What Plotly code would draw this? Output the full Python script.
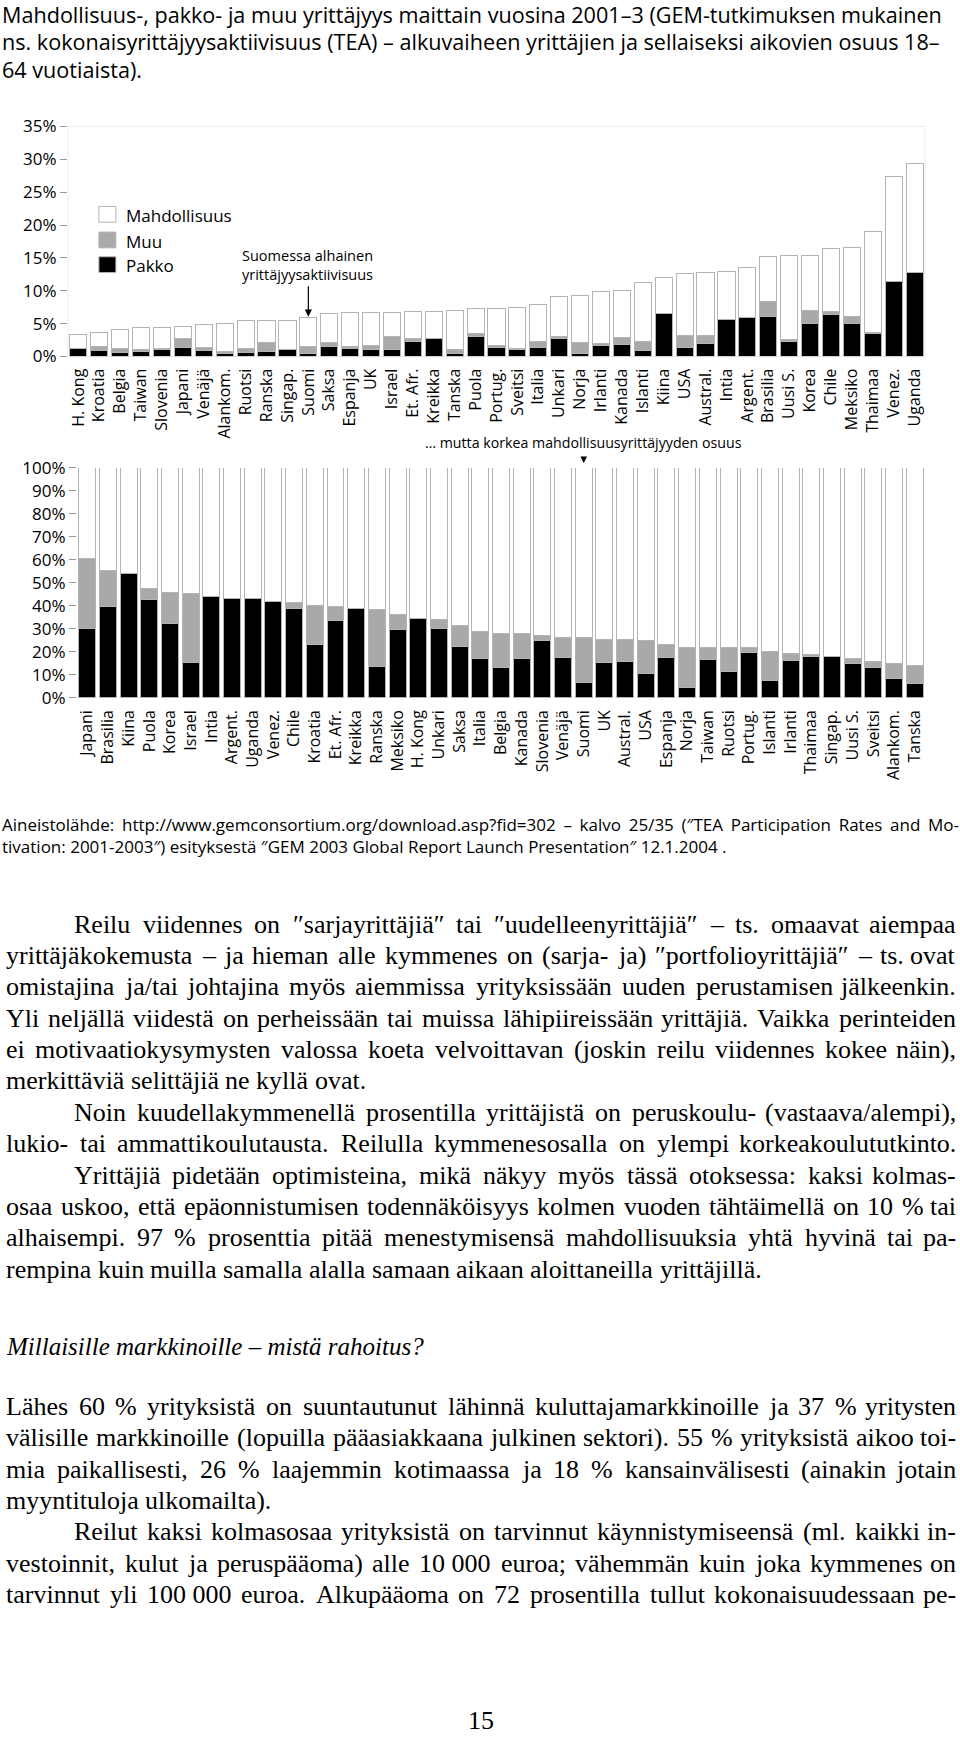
import plotly.graph_objects as go

# ---------------- DATA ----------------
countries_top = ["H. Kong", "Kroatia", "Belgia", "Taiwan", "Slovenia", "Japani", "Venäjä", "Alankom.",
                 "Ruotsi", "Ranska", "Singap.", "Suomi", "Saksa", "Espanja", "UK", "Israel", "Et. Afr.",
                 "Kreikka", "Tanska", "Puola", "Portug.", "Sveitsi", "Italia", "Unkari", "Norja", "Irlanti",
                 "Kanada", "Islanti", "Kiina", "USA", "Austral.", "Intia", "Argent.", "Brasilia", "Uusi S.",
                 "Korea", "Chile", "Meksiko", "Thaimaa", "Venez.", "Uganda"]
pakko_top = [1.2, 0.9, 0.6, 0.7, 1.1, 1.35, 0.9, 0.43, 0.62, 0.76, 1.0, 0.42, 1.45, 1.2, 1.04, 1.04, 2.27,
             2.67, 0.47, 3.11, 1.43, 1.0, 1.37, 2.73, 0.44, 1.62, 1.75, 0.88, 6.55, 1.36, 2.03, 5.65, 5.93,
             6.04, 2.29, 4.98, 6.35, 4.95, 3.42, 11.48, 12.77]
muu_top = [0.0, 0.65, 0.65, 0.35, 0.1, 1.4, 0.4, 0.33, 0.58, 1.36, 0.0, 1.12, 0.6, 0.38, 0.7, 2.03, 0.43,
           0.0, 0.56, 0.36, 0.19, 0.17, 0.94, 0.38, 1.63, 0.34, 1.11, 1.45, 0.0, 1.86, 1.22, 0.0, 0.0,
           2.39, 0.31, 2.03, 0.5, 1.1, 0.23, 0.0, 0.0]
mahd_top = [2.2, 2.1, 2.9, 3.3, 3.15, 1.75, 3.5, 4.24, 4.25, 3.33, 4.45, 4.36, 4.45, 5.12, 4.96, 3.63, 4.1,
            4.13, 5.92, 3.78, 5.63, 6.23, 5.59, 5.94, 7.23, 7.89, 7.24, 8.97, 5.5, 9.48, 9.55, 7.25, 7.67,
            6.77, 12.7, 8.29, 9.55, 10.6, 15.3, 15.87, 16.58]

countries_share = ["Japani", "Brasilia", "Kiina", "Puola", "Korea", "Israel", "Intia", "Argent.", "Uganda",
                   "Venez.", "Chile", "Kroatia", "Et. Afr.", "Kreikka", "Ranska", "Meksiko", "H. Kong",
                   "Unkari", "Saksa", "Italia", "Belgia", "Kanada", "Slovenia", "Venäjä", "Suomi", "UK",
                   "Austral.", "USA", "Espanja", "Norja", "Taiwan", "Ruotsi", "Portug.", "Islanti", "Irlanti",
                   "Thaimaa", "Singap.", "Uusi S.", "Sveitsi", "Alankom.", "Tanska"]
pakko_share = [30.3, 39.7, 54.1, 43.0, 32.4, 15.3, 43.9, 43.4, 43.4, 41.9, 38.7, 23.4, 33.7, 38.9, 13.6,
               29.7, 34.4, 30.0, 22.4, 17.1, 13.4, 17.3, 25.1, 17.6, 6.9, 15.3, 15.7, 10.7, 17.4, 4.7,
               16.6, 11.4, 19.6, 7.6, 16.1, 18.1, 18.0, 14.9, 13.3, 8.4, 6.3]
muu_share = [30.4, 15.6, 0.0, 4.4, 13.5, 30.0, 0.0, 0.0, 0.0, 0.0, 3.0, 16.7, 6.0, 0.0, 25.0, 6.4, 0.0,
             4.1, 9.0, 11.6, 14.6, 10.7, 1.9, 8.8, 19.2, 10.3, 9.6, 14.4, 6.0, 17.3, 5.4, 10.6, 2.4, 12.4,
             3.3, 0.9, 0.0, 2.1, 2.4, 6.6, 7.6]
mahd_share = [39.3, 44.7, 45.9, 52.6, 54.1, 54.7, 56.1, 56.6, 56.6, 58.1, 58.3, 59.9, 60.3, 61.1, 61.4,
              63.9, 65.6, 65.9, 68.6, 71.3, 72.0, 72.0, 73.0, 73.6, 73.9, 74.4, 74.7, 74.9, 76.6, 78.0,
              78.0, 78.0, 78.0, 80.0, 80.6, 81.0, 82.0, 83.0, 84.3, 85.0, 86.1]

series_names = ["Pakko", "Muu", "Mahdollisuus"]

title_lines = [
    "Mahdollisuus-, pakko- ja muu yrittäjyys maittain vuosina 2001–3 (GEM-tutkimuksen mukainen",
    "ns. kokonaisyrittäjyysaktiivisuus (TEA) – alkuvaiheen yrittäjien ja sellaiseksi aikovien osuus 18–",
    "64 vuotiaista).",
]
source_lines = [
    "Aineistolähde: http://www.gemconsortium.org/download.asp?fid=302 – kalvo 25/35 (″TEA Participation Rates and Mo-",
    "tivation: 2001-2003″) esityksestä ″GEM 2003 Global Report Launch Presentation″ 12.1.2004 .",
]
note_top = "Suomessa alhainen<br>yrittäjyysaktiivisuus"
note_bottom = "… mutta korkea mahdollisuusyrittäjyyden osuus"

# body text: (text, indent, justified)
body_lines = [
    ("Reilu viidennes on ″sarjayrittäjiä″ tai ″uudelleenyrittäjiä″ – ts. omaavat aiempaa", True, True),
    ("yrittäjäkokemusta – ja hieman alle kymmenes on (sarja- ja) ″portfolioyrittäjiä″ – ts. ovat", False, True),
    ("omistajina ja/tai johtajina myös aiemmissa yrityksissään uuden perustamisen jälkeenkin.", False, True),
    ("Yli neljällä viidestä on perheissään tai muissa lähipiireissään yrittäjiä. Vaikka perinteiden", False, True),
    ("ei motivaatiokysymysten valossa koeta velvoittavan (joskin reilu viidennes kokee näin),", False, True),
    ("merkittäviä selittäjiä ne kyllä ovat.", False, False),
    ("Noin kuudellakymmenellä prosentilla yrittäjistä on peruskoulu- (vastaava/alempi),", True, True),
    ("lukio- tai ammattikoulutausta. Reilulla kymmenesosalla on ylempi korkeakoulututkinto.", False, True),
    ("Yrittäjiä pidetään optimisteina, mikä näkyy myös tässä otoksessa: kaksi kolmas-", True, True),
    ("osaa uskoo, että epäonnistumisen todennäköisyys kolmen vuoden tähtäimellä on 10 % tai", False, True),
    ("alhaisempi. 97 % prosenttia pitää menestymisensä mahdollisuuksia yhtä hyvinä tai pa-", False, True),
    ("rempina kuin muilla samalla alalla samaan aikaan aloittaneilla yrittäjillä.", False, False),
]
heading = "Millaisille markkinoille – mistä rahoitus?"
body_lines2 = [
    ("Lähes 60 % yrityksistä on suuntautunut lähinnä kuluttajamarkkinoille ja 37 % yritysten", False, True),
    ("välisille markkinoille (lopuilla pääasiakkaana julkinen sektori). 55 % yrityksistä aikoo toi-", False, True),
    ("mia paikallisesti, 26 % laajemmin kotimaassa ja 18 % kansainvälisesti (ainakin jotain", False, True),
    ("myyntituloja ulkomailta).", False, False),
    ("Reilut kaksi kolmasosaa yrityksistä on tarvinnut käynnistymiseensä (ml. kaikki in-", True, True),
    ("vestoinnit, kulut ja peruspääoma) alle 10\u00a0000 euroa; vähemmän kuin joka kymmenes on", False, True),
    ("tarvinnut yli 100\u00a0000 euroa. Alkupääoma on 72 prosentilla tullut kokonaisuudessaan pe-", False, True),
]
page_number = "15"

# ---------------- STYLE ----------------
W, H = 960, 1763
DY = 8   # vertical render offset compensation for the upper chart
DY2 = 6  # ... and for the lower chart
SANS = "Open Sans"
SERIF = "Liberation Serif"
C_PAKKO, C_MUU, C_MAHD = "#000000", "#a9a9a9", "#ffffff"
OUTLINE = "#b4b4b4"


def py(px):
    return 1 - px / H


def cy(px, d=DY):  # chart element (axes/shapes) position
    return 1 - (px - d) / H


def pxx(px):
    return px / W


fig = go.Figure()
colors = [C_PAKKO, C_MUU, C_MAHD]
for name, vals, col in zip(series_names, [pakko_top, muu_top, mahd_top], colors):
    fig.add_trace(go.Bar(x=countries_top, y=vals, name=name, marker=dict(color=col, line=dict(color=OUTLINE, width=1)),
                         xaxis="x", yaxis="y", showlegend=False))
for name, vals, col in zip(series_names, [pakko_share, muu_share, mahd_share], colors):
    fig.add_trace(go.Bar(x=countries_share, y=vals, name=name, marker=dict(color=col, line=dict(color=OUTLINE, width=1)),
                         xaxis="x2", yaxis="y2", showlegend=False))

tickfont_x = dict(family=SANS, size=16, color="#000")
tickfont_y = dict(family=SANS, size=17, color="#000")

fig.update_layout(
    width=W, height=H, margin=dict(l=0, r=0, t=0, b=0),
    paper_bgcolor="white", plot_bgcolor="white",
    barmode="stack", bargap=0.18,
    xaxis=dict(domain=[pxx(67), pxx(925)], anchor="y", type="category", tickangle=-90, tickfont=tickfont_x,
               ticks="", showgrid=False, showline=False, zeroline=False, ticklabelstandoff=8),
    yaxis=dict(domain=[cy(357), cy(124)], anchor="x", range=[0, 35], dtick=5, ticksuffix="%", tickfont=tickfont_y,
               ticks="outside", ticklen=7, tickcolor="#9a9a9a", tickwidth=1, showgrid=False, zeroline=False,
               showline=False),
    xaxis2=dict(domain=[pxx(76), pxx(925)], anchor="y2", type="category", tickangle=-90, tickfont=tickfont_x,
                ticks="", showgrid=False, showline=False, zeroline=False, ticklabelstandoff=8),
    yaxis2=dict(domain=[cy(701, DY2), cy(468, DY2)], anchor="x2", range=[0, 100], dtick=10, ticksuffix="%",
                tickfont=tickfont_y, ticks="outside", ticklen=7, tickcolor="#9a9a9a", tickwidth=1,
                showgrid=False, zeroline=False, showline=False),
)

shapes = []
# light frame of the upper chart
shapes.append(dict(type="rect", xref="paper", yref="paper", x0=pxx(67), x1=pxx(925), y0=cy(357), y1=cy(124),
                   line=dict(color="#ededed", width=1), fillcolor="rgba(0,0,0,0)", layer="below"))
# legend squares
leg_y = [(205, 221), (231, 247), (256, 272)]
leg_cols = [C_MAHD, C_MUU, C_PAKKO]
leg_names = ["Mahdollisuus", "Muu", "Pakko"]
annotations = []
for (y0, y1), col, nm in zip(leg_y, leg_cols, leg_names):
    shapes.append(dict(type="rect", xref="paper", yref="paper", x0=pxx(98), x1=pxx(115), y0=cy(y1), y1=cy(y0),
                       fillcolor=col, line=dict(color=OUTLINE, width=1)))
    annotations.append(dict(x=pxx(123), y=py((y0 + y1) / 2 - 6.7), xref="paper", yref="paper", xanchor="left",
                            yanchor="middle", text=nm, showarrow=False, font=dict(family=SANS, size=17, color="#000")))

# chart notes
annotations.append(dict(x=pxx(239), y=py(235), xref="paper", yref="paper", xanchor="left", yanchor="top",
                        text=note_top, align="left", showarrow=False,
                        font=dict(family=SANS, size=14.5, color="#000")))
annotations.append(dict(x="Suomi", y=mahd_top[11] + muu_top[11] + pakko_top[11], xref="x", yref="y",
                        ax=0, ay=-33, text="", showarrow=True, arrowhead=2, arrowsize=1.2, arrowwidth=1.2,
                        arrowcolor="#000", standoff=1))
annotations.append(dict(x=pxx(422), y=py(436.3), xref="paper", yref="paper", xanchor="left", yanchor="middle",
                        text=note_bottom, showarrow=False, font=dict(family=SANS, size=14.2, color="#000")))
annotations.append(dict(x="Suomi", y=100, xref="x2", yref="y2", ax=0, ay=-12, text="", showarrow=True,
                        arrowhead=2, arrowsize=1.3, arrowwidth=1, arrowcolor="#000", standoff=5))

# title
TS = 21.6
for i, t in enumerate(title_lines):
    base = 9 + i * 28.1
    annotations.append(dict(x=0, y=py(base - 0.33 * 21), xref="paper", yref="paper", xanchor="left",
                            yanchor="middle", text=t, showarrow=False, borderpad=0,
                            font=dict(family=SANS, size=TS, color="#000")))
# source
for i, t in enumerate(source_lines):
    base = 829 + i * 22
    txt = t if i else '<span style="word-spacing:3.3px">' + t + '</span>'
    annotations.append(dict(x=0, y=py(base - 0.33 * 17), xref="paper", yref="paper", xanchor="left",
                            yanchor="middle", text=txt, showarrow=False, borderpad=0,
                            font=dict(family=SANS, size=17, color="#000")))

# body text, justified word by word using Times metrics
TIMES = {' ': 250, '!': 333, '"': 408, '%': 833, '&': 778, "'": 333, '(': 333, ')': 333, ',': 250, '-': 333,
         '.': 250, '/': 278, ':': 278, ';': 278, '?': 444, '–': 500, '″': 410, '\u00a0': 250,
         'A': 722, 'B': 667, 'C': 667, 'D': 722, 'E': 611, 'F': 556, 'G': 722, 'H': 722, 'I': 333, 'J': 389,
         'K': 722, 'L': 611, 'M': 889, 'N': 722, 'O': 722, 'P': 556, 'Q': 722, 'R': 667, 'S': 556, 'T': 611,
         'U': 722, 'V': 722, 'W': 944, 'X': 722, 'Y': 722, 'Z': 611,
         'a': 444, 'b': 500, 'c': 444, 'd': 500, 'e': 444, 'f': 333, 'g': 500, 'h': 500, 'i': 278, 'j': 278,
         'k': 500, 'l': 278, 'm': 778, 'n': 500, 'o': 500, 'p': 500, 'q': 500, 'r': 333, 's': 389, 't': 278,
         'u': 500, 'v': 500, 'w': 722, 'x': 500, 'y': 500, 'z': 444, 'ä': 444, 'ö': 500, 'Ä': 722, 'Ö': 722}
for d in "0123456789":
    TIMES[d] = 500

BS = 26
LEFT, RIGHT, INDENT = 4, 957, 72
LSTEP = 31.78


def tw(s, size=BS):
    return sum(TIMES.get(c, 500) for c in s) / 1000.0 * size


def place_line(text, indent, justified, base):
    words = text.split(" ")
    x0 = INDENT if indent else LEFT
    widths = [tw(w) for w in words]
    if justified and len(words) > 1:
        gap = (RIGHT - x0 - sum(widths)) / (len(words) - 1)
    else:
        gap = tw(" ")
    x = x0
    ymid = py(base - 0.3 * BS)
    for k, (w, wd) in enumerate(zip(words, widths)):
        last = justified and k == len(words) - 1 and len(words) > 1
        annotations.append(dict(x=pxx(RIGHT if last else x), y=ymid, xref="paper", yref="paper",
                                xanchor="right" if last else "left", yanchor="middle", text=w,
                                showarrow=False, borderpad=0, font=dict(family=SERIF, size=BS, color="#000")))
        x += wd + gap


base0 = 932
for i, (t, ind, j) in enumerate(body_lines):
    place_line(t, ind, j, base0 + i * LSTEP)

annotations.append(dict(x=pxx(LEFT), y=py(1360 - 0.3 * BS), xref="paper", yref="paper", xanchor="left",
                        yanchor="middle", text="<i>" + heading + "</i>", showarrow=False, borderpad=0,
                        font=dict(family=SERIF, size=25, color="#000")))
base1 = 1420.5
for i, (t, ind, j) in enumerate(body_lines2):
    place_line(t, ind, j, base1 + i * LSTEP)

annotations.append(dict(x=pxx(480), y=py(1738.5 - 0.3 * BS), xref="paper", yref="paper", xanchor="center",
                        yanchor="middle", text=page_number, showarrow=False,
                        font=dict(family=SERIF, size=BS, color="#000")))

fig.update_layout(shapes=shapes, annotations=annotations)

fig.write_html("out.html", config={"displayModeBar": False},
               post_script="document.body.style.margin='0';")
